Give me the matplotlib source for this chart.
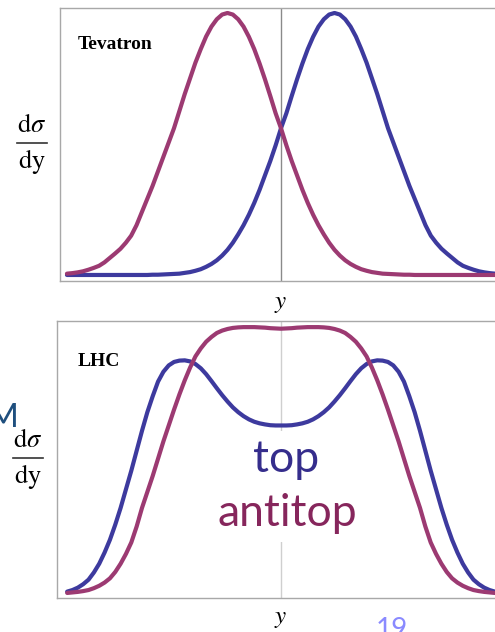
import numpy as np
import matplotlib.pyplot as plt
from matplotlib.lines import Line2D

plt.rcParams['mathtext.fontset'] = 'stix'

# rapidity samples (arbitrary units)
rapidity = [-4.0, -3.9, -3.8, -3.7, -3.6, -3.5, -3.4, -3.3, -3.2, -3.1,
            -3.0, -2.9, -2.8, -2.7, -2.6, -2.5, -2.4, -2.3, -2.2, -2.1,
            -2.0, -1.9, -1.8, -1.7, -1.6, -1.5, -1.4, -1.3, -1.2, -1.1,
            -1.0, -0.9, -0.8, -0.7, -0.6, -0.5, -0.4, -0.3, -0.2, -0.1,
            0.0, 0.1, 0.2, 0.3, 0.4, 0.5, 0.6, 0.7, 0.8, 0.9,
            1.0, 1.1, 1.2, 1.3, 1.4, 1.5, 1.6, 1.7, 1.8, 1.9,
            2.0, 2.1, 2.2, 2.3, 2.4, 2.5, 2.6, 2.7, 2.8, 2.9,
            3.0, 3.1, 3.2, 3.3, 3.4, 3.5, 3.6, 3.7, 3.8, 3.9,
            4.0]

# Tevatron (p pbar): normalised d(sigma)/dy, top forward / antitop backward
tev_antitop = [0.005, 0.007, 0.010, 0.014, 0.020, 0.027, 0.035, 0.048, 0.065, 0.082,
               0.10, 0.123, 0.15, 0.19, 0.24, 0.29, 0.34, 0.395, 0.45, 0.505,
               0.56, 0.625, 0.69, 0.75, 0.81, 0.862, 0.91, 0.948, 0.976, 0.994,
               1.0, 0.994, 0.976, 0.948, 0.909, 0.862, 0.807, 0.747, 0.683, 0.617,
               0.56, 0.495, 0.435, 0.38, 0.325, 0.275, 0.23, 0.19, 0.155, 0.123,
               0.096, 0.074, 0.056, 0.042, 0.031, 0.022, 0.016, 0.011, 0.008, 0.005,
               0.004, 0.003, 0.002, 0.001, 0.001, 0.0, 0.0, 0.0, 0.0, 0.0,
               0.0, 0.0, 0.0, 0.0, 0.0, 0.0, 0.0, 0.0, 0.0, 0.0,
               0.0]
tev_top = [0.0, 0.0, 0.0, 0.0, 0.0, 0.0, 0.0, 0.0, 0.0, 0.0,
           0.0, 0.0, 0.0, 0.0, 0.0, 0.0, 0.001, 0.001, 0.002, 0.003,
           0.004, 0.005, 0.008, 0.011, 0.016, 0.022, 0.031, 0.042, 0.056, 0.074,
           0.096, 0.123, 0.155, 0.19, 0.23, 0.275, 0.325, 0.38, 0.435, 0.495,
           0.56, 0.617, 0.683, 0.747, 0.807, 0.862, 0.909, 0.948, 0.976, 0.994,
           1.0, 0.994, 0.976, 0.948, 0.91, 0.862, 0.81, 0.75, 0.69, 0.625,
           0.56, 0.505, 0.45, 0.395, 0.34, 0.29, 0.24, 0.19, 0.15, 0.123,
           0.10, 0.082, 0.065, 0.048, 0.035, 0.027, 0.020, 0.014, 0.010, 0.007,
           0.005]

# LHC (pp): top broader with a central dip, antitop more central
lhc_top = [0.005, 0.011, 0.02, 0.033, 0.05, 0.077, 0.11, 0.152, 0.20, 0.257,
           0.32, 0.39, 0.46, 0.535, 0.61, 0.68, 0.74, 0.795, 0.832, 0.856,
           0.869, 0.874, 0.875, 0.871, 0.861, 0.845, 0.823, 0.797, 0.77, 0.744,
           0.72, 0.698, 0.68, 0.665, 0.653, 0.644, 0.638, 0.634, 0.631, 0.630,
           0.63, 0.630, 0.631, 0.634, 0.638, 0.644, 0.653, 0.665, 0.68, 0.698,
           0.72, 0.744, 0.77, 0.797, 0.823, 0.845, 0.861, 0.871, 0.875, 0.874,
           0.869, 0.856, 0.832, 0.795, 0.74, 0.68, 0.61, 0.535, 0.46, 0.39,
           0.32, 0.257, 0.20, 0.152, 0.11, 0.077, 0.05, 0.033, 0.02, 0.011,
           0.005]
lhc_antitop = [0.0, 0.002, 0.004, 0.007, 0.011, 0.018, 0.027, 0.039, 0.055, 0.079,
               0.11, 0.147, 0.19, 0.25, 0.32, 0.38, 0.44, 0.505, 0.57, 0.63,
               0.69, 0.747, 0.80, 0.848, 0.89, 0.92, 0.945, 0.963, 0.978, 0.987,
               0.993, 0.997, 0.999, 1.0, 1.0, 1.0, 0.999, 0.998, 0.996, 0.995,
               0.994, 0.995, 0.996, 0.998, 0.999, 1.0, 1.0, 1.0, 0.999, 0.997,
               0.993, 0.987, 0.978, 0.963, 0.945, 0.92, 0.89, 0.848, 0.80, 0.747,
               0.69, 0.63, 0.57, 0.505, 0.44, 0.38, 0.32, 0.25, 0.19, 0.147,
               0.11, 0.079, 0.055, 0.039, 0.027, 0.018, 0.011, 0.007, 0.004, 0.002,
               0.0]

BLUE = '#3d3a9e'
MAGENTA = '#9c3a72'
W, H = 495, 632

fig = plt.figure(figsize=(W / 100, H / 100), dpi=100)


def px(x, y):
    # pixel position (from top-left) -> figure fraction
    return x / W, 1 - y / H


ax1 = fig.add_axes([60 / W, (H - 281) / H, 442 / W, 273 / H])
ax2 = fig.add_axes([57 / W, (H - 598) / H, 448 / W, 277 / H])

for ax, top, anti, vcol in [(ax1, tev_top, tev_antitop, '#8a8a8a'),
                            (ax2, lhc_top, lhc_antitop, '#cfcfcf')]:
    ax.axvline(0, color=vcol, lw=1.0, zorder=1)
    ax.plot(rapidity, top, color=BLUE, lw=3.0, solid_capstyle='round',
            solid_joinstyle='round', zorder=3)
    ax.plot(rapidity, anti, color=MAGENTA, lw=3.0, solid_capstyle='round',
            solid_joinstyle='round', zorder=4)
    ax.set_xticks([])
    ax.set_yticks([])
    for s in ax.spines.values():
        s.set_color('#a8a8a8')
        s.set_linewidth(1.0)

ax1.set_xlim(-4.13, 4.13)
ax1.set_ylim(-0.023, 1.019)
ax2.set_xlim(-4.19, 4.19)
ax2.set_ylim(-0.019, 1.023)

ax1.text(0.04, 0.865, 'Tevatron', transform=ax1.transAxes, family='Liberation Serif',
         fontweight='bold', fontsize=14, va='center', ha='left')
ax2.text(0.047, 0.855, 'LHC', transform=ax2.transAxes, family='Liberation Serif',
         fontweight='bold', fontsize=14, va='center', ha='left')

# d sigma / dy written as a stacked fraction
for cx, bar_y in [(32, 143), (28, 458)]:
    fig.text(*px(cx, bar_y - 11), r'$\mathrm{d}\sigma$', fontsize=19,
             ha='center', va='baseline')
    fig.text(*px(cx, bar_y + 25), r'$\mathrm{dy}$', fontsize=19,
             ha='center', va='baseline')
    x0, y0 = px(cx - 15, bar_y)
    x1, _ = px(cx + 15, bar_y)
    fig.add_artist(Line2D([x0, x1], [y0, y0], transform=fig.transFigure,
                          color='#333333', lw=1.2))

fig.text(*px(281, 303), r'$y$', fontsize=18, ha='center', va='center')
fig.text(*px(281, 618), r'$y$', fontsize=18, ha='center', va='center')

box = dict(facecolor='white', edgecolor='none', pad=6)
fig.text(*px(286, 472), 'top', family='Lato', fontsize=32, color='#352d8c',
         ha='center', va='baseline', bbox=box, zorder=5)
fig.text(*px(287, 526), 'antitop', family='Lato', fontsize=32, color='#86265c',
         ha='center', va='baseline', bbox=box, zorder=5)

fig.text(*px(3, 427), 'M', family='Lato', fontsize=24, color='#1f4f7e',
         ha='center', va='baseline')
fig.text(*px(392, 617), '19', family='Lato', fontsize=20, color='#8a8aff',
         ha='center', va='top')

fig.savefig('out.png', dpi=100)
